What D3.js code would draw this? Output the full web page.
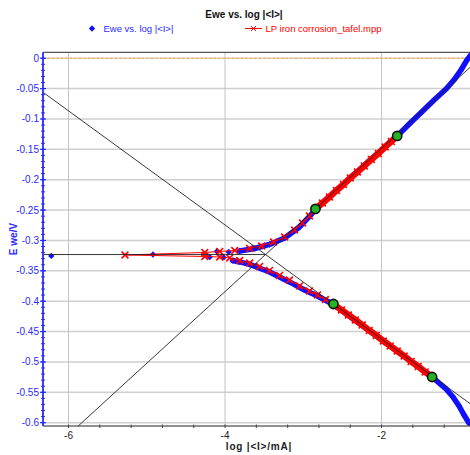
<!DOCTYPE html>
<html>
<head>
<meta charset="utf-8">
<script src="https://cdn.jsdelivr.net/npm/d3@7"></script>
<style>
  body { margin: 0; background: #fff; }
  svg { display: block; font-family: "Liberation Sans", Arial, sans-serif; }
</style>
</head>
<body>
<div id="chart"></div>
<script>
// ---- data (log|I| in log mA, E in V) ----
// measured curve, cathodic branch (from -0.6 V up to Ecorr)
const blueLowLogI = [-0.883, -0.946, -1.010, -1.087, -1.176, -1.265, -1.354, -1.775, -2.195, -2.615, -2.819, -2.985, -3.176, -3.431, -3.685, -3.813, -3.902]
const blueLowE = [-0.6005, -0.5874, -0.5725, -0.5577, -0.5445, -0.5347, -0.5248, -0.4844, -0.4449, -0.4054, -0.3914, -0.3815, -0.3683, -0.3519, -0.3395, -0.3354, -0.3330]
// measured curve, anodic branch
const blueUpLogI = [-3.813, -3.622, -3.431, -3.239, -3.048, -2.921, -2.845, -2.322, -1.800, -1.647, -1.481, -1.329, -1.176, -1.074, -0.985, -0.908, -0.858]
const blueUpE = [-0.3173, -0.3132, -0.3066, -0.2959, -0.2778, -0.2605, -0.2490, -0.1880, -0.1279, -0.1082, -0.0876, -0.0687, -0.0506, -0.0357, -0.0193, -0.0028, 0.0054]
// isolated points near Ecorr
const blueSparseLogI = [-6.220, -4.921, -4.195, -4.106, -4.017, -3.953]
const blueSparseE = [-0.3255, -0.3231, -0.3272, -0.3181, -0.3280, -0.3190]

// LP iron corrosion_tafel.mpp
const redLogI = [-1.354, -1.443, -1.532, -1.622, -1.711, -1.800, -1.889, -1.978, -2.068, -2.157, -2.246, -2.335, -2.424, -2.513, -2.615,
  -2.717, -2.819, -2.921, -3.048, -3.176, -3.303, -3.431, -3.558, -3.685, -3.813, -3.940, -4.068, -4.259, -5.278,
  -4.259, -4.068, -3.876, -3.685, -3.532, -3.380, -3.239, -3.112, -3.010, -2.921, -2.845,
  -2.755, -2.666, -2.577, -2.488, -2.399, -2.309, -2.220, -2.131, -2.042, -1.953, -1.876, -1.800]
const redE = [-0.5248, -0.5165, -0.5075, -0.4993, -0.4902, -0.4820, -0.4737, -0.4655, -0.4564, -0.4482, -0.4392, -0.4309, -0.4227, -0.4145, -0.4046,
  -0.3972, -0.3898, -0.3832, -0.3749, -0.3651, -0.3576, -0.3494, -0.3428, -0.3371, -0.3330, -0.3288, -0.3272, -0.3264, -0.3239,
  -0.3198, -0.3181, -0.3165, -0.3132, -0.3091, -0.3025, -0.2943, -0.2827, -0.2712, -0.2597, -0.2481,
  -0.2383, -0.2284, -0.2177, -0.2078, -0.1971, -0.1872, -0.1773, -0.1666, -0.1568, -0.1461, -0.1370, -0.1279]

// fit range limits (green)
const fitLogI = [-1.800, -2.845, -2.615, -1.354]
const fitE = [-0.1279, -0.2481, -0.4046, -0.5248]

// Tafel lines + Ecorr
const anodicLineLogI = [-5.88, -0.87]
const anodicLineE = [-0.606, -0.015]
const cathodicLineLogI = [-6.326, -0.87]
const cathodicLineE = [-0.056, -0.5686]
const ecorrLineLogI = [-6.326, -3.482]
const ecorrLineE = [-0.3232, -0.3232]

const xTicks = [-6, -4, -2]
const yTicks = [0, -0.05, -0.1, -0.15, -0.2, -0.25, -0.3, -0.35, -0.4, -0.45, -0.5, -0.55, -0.6]
const yTickLabels = ['0', '-0.05', '-0.1', '-0.15', '-0.2', '-0.25', '-0.3', '-0.35', '-0.4', '-0.45', '-0.5', '-0.55', '-0.6']

// ---- layout ----
const svgWidth = 470, svgHeight = 455
const plot = { left: 43, right: 470, top: 52.3, bottom: 426 }

const svg = d3.select('#chart').append('svg')
    .attr('width', svgWidth)
    .attr('height', svgHeight)

const xScale = d3.scaleLinear().domain([-6.326, -0.87]).range([plot.left, plot.right])
const yScale = d3.scaleLinear().domain([0.0098, -0.6055]).range([plot.top, plot.bottom])

const pts = (xs, ys) => xs.map((x, i) => [x, ys[i]])
const line = d3.line().x(d => xScale(d[0])).y(d => yScale(d[1]))

svg.append('clipPath').attr('id', 'clip')
    .append('rect')
    .attr('x', plot.left).attr('y', plot.top)
    .attr('width', plot.right - plot.left).attr('height', plot.bottom - plot.top)

// grid
svg.append('g').selectAll('line')
    .data(yTicks)
    .join('line')
    .attr('x1', plot.left).attr('x2', plot.right)
    .attr('y1', d => yScale(d)).attr('y2', d => yScale(d))
    .attr('stroke', '#cfcfcf').attr('stroke-width', 1.5)
svg.append('g').selectAll('line')
    .data(xTicks)
    .join('line')
    .attr('x1', d => xScale(d)).attr('x2', d => xScale(d))
    .attr('y1', plot.top).attr('y2', plot.bottom)
    .attr('stroke', '#c4c4c4').attr('stroke-width', 1)

// zero line
svg.append('line')
    .attr('x1', plot.left).attr('x2', plot.right)
    .attr('y1', yScale(0)).attr('y2', yScale(0))
    .attr('stroke', '#ffb347').attr('stroke-width', 1.4)
    .attr('stroke-dasharray', '2,2.5')

const g = svg.append('g').attr('clip-path', 'url(#clip)')

// blue measured curve
const blue = '#1010ff'
// rotated square marker
const diamond = d3.symbol().type(d3.symbolSquare).size(20)
;[pts(blueLowLogI, blueLowE), pts(blueUpLogI, blueUpE)].forEach(branch => {
    g.append('path')
        .attr('d', line(branch))
        .attr('fill', 'none')
        .attr('stroke', blue)
        .attr('stroke-width', 5.5)
        .attr('stroke-linejoin', 'round')
        .attr('stroke-linecap', 'round')
})
g.append('g').selectAll('path')
    .data(pts(blueSparseLogI, blueSparseE).concat(pts(blueLowLogI, blueLowE), pts(blueUpLogI, blueUpE)))
    .join('path')
    .attr('d', diamond)
    .attr('transform', d => `translate(${xScale(d[0])},${yScale(d[1])}) rotate(45)`)
    .attr('fill', blue)

// red series
const red = '#ff0000'
const redPts = pts(redLogI, redE)
g.append('path')
    .attr('d', line(redPts))
    .attr('fill', 'none')
    .attr('stroke', red)
    .attr('stroke-width', 1)
const cross = (x, y, s) => `M${x - s},${y - s}L${x + s},${y + s}M${x - s},${y + s}L${x + s},${y - s}`
g.append('g').selectAll('path')
    .data(redPts)
    .join('path')
    .attr('d', d => cross(xScale(d[0]), yScale(d[1]), 3.4))
    .attr('stroke', red)
    .attr('stroke-width', 1.6)
// thick band through densely sampled fit ranges
;[redPts.slice(0, 15), redPts.slice(39)].forEach(seg => {
    g.append('path')
        .attr('d', line(seg))
        .attr('fill', 'none')
        .attr('stroke', red)
        .attr('stroke-width', 6.5)
})

// Tafel lines
;[[anodicLineLogI, anodicLineE], [cathodicLineLogI, cathodicLineE], [ecorrLineLogI, ecorrLineE]].forEach(([xs, ys]) => {
    g.append('path')
        .attr('d', line(pts(xs, ys)))
        .attr('fill', 'none')
        .attr('stroke', '#222')
        .attr('stroke-width', 0.9)
})

// fit limits
g.append('g').selectAll('circle')
    .data(pts(fitLogI, fitE))
    .join('circle')
    .attr('cx', d => xScale(d[0]))
    .attr('cy', d => yScale(d[1]))
    .attr('r', 4.6)
    .attr('fill', '#22b422')
    .attr('stroke', '#111')
    .attr('stroke-width', 1.6)

// frame top
svg.append('line')
    .attr('x1', plot.left).attr('x2', plot.right)
    .attr('y1', plot.top).attr('y2', plot.top)
    .attr('stroke', '#555').attr('stroke-width', 1.2)

// x axis
svg.append('line')
    .attr('x1', plot.left).attr('x2', plot.right)
    .attr('y1', plot.bottom).attr('y2', plot.bottom)
    .attr('stroke', '#222').attr('stroke-width', 1.2)
svg.append('g').selectAll('line')
    .data(d3.range(-6, -0.87, 0.4))
    .join('line')
    .attr('x1', d => xScale(d)).attr('x2', d => xScale(d))
    .attr('y1', plot.bottom - 1.5).attr('y2', plot.bottom + 2)
    .attr('stroke', '#444')
svg.append('g').selectAll('text')
    .data(xTicks)
    .join('text')
    .attr('x', d => xScale(d))
    .attr('y', 439)
    .attr('text-anchor', 'middle')
    .attr('font-size', 10)
    .attr('fill', '#222')
    .text(d => d)
svg.append('text')
    .attr('x', 259).attr('y', 450)
    .attr('text-anchor', 'middle')
    .attr('font-size', 10)
    .attr('font-weight', 'bold')
    .attr('letter-spacing', 0.8)
    .attr('fill', '#222')
    .text('log |<I>/mA|')

// y axis (blue)
const axisBlue = '#2a2aff'
svg.append('line')
    .attr('x1', plot.left).attr('x2', plot.left)
    .attr('y1', plot.top).attr('y2', plot.bottom)
    .attr('stroke', axisBlue).attr('stroke-width', 1.8)
svg.append('g').selectAll('line')
    .data(d3.range(0, -0.605, -0.01))
    .join('line')
    .attr('x1', plot.left - 2).attr('x2', plot.left + 2)
    .attr('y1', d => yScale(d)).attr('y2', d => yScale(d))
    .attr('stroke', axisBlue).attr('stroke-width', 1)
svg.append('g').selectAll('line')
    .data(yTicks)
    .join('line')
    .attr('x1', plot.left - 3).attr('x2', plot.left + 3)
    .attr('y1', d => yScale(d)).attr('y2', d => yScale(d))
    .attr('stroke', axisBlue).attr('stroke-width', 1.2)
svg.append('g').selectAll('text')
    .data(yTicks)
    .join('text')
    .attr('x', 39)
    .attr('y', d => yScale(d) + 3.5)
    .attr('text-anchor', 'end')
    .attr('font-size', 10)
    .attr('fill', axisBlue)
    .text((d, i) => yTickLabels[i])
svg.append('text')
    .attr('transform', 'translate(17,239) rotate(-90)')
    .attr('text-anchor', 'middle')
    .attr('font-size', 10)
    .attr('font-weight', 'bold')
    .attr('fill', axisBlue)
    .text('E we/V')

// title + legend
svg.append('text')
    .attr('x', 244).attr('y', 18)
    .attr('text-anchor', 'middle')
    .attr('font-size', 10)
    .attr('font-weight', 'bold')
    .attr('fill', '#111')
    .text('Ewe vs. log |<I>|')
svg.append('path')
    .attr('d', d3.symbol().type(d3.symbolSquare).size(20))
    .attr('transform', 'translate(92,28.5) rotate(45)')
    .attr('fill', blue)
svg.append('text')
    .attr('x', 103.5).attr('y', 32)
    .attr('font-size', 9.5)
    .attr('fill', axisBlue)
    .text('Ewe vs. log |<I>|')
svg.append('line')
    .attr('x1', 245).attr('x2', 262)
    .attr('y1', 28.5).attr('y2', 28.5)
    .attr('stroke', red)
svg.append('path')
    .attr('d', cross(253.5, 28.5, 2.5))
    .attr('stroke', red)
svg.append('text')
    .attr('x', 265.5).attr('y', 32)
    .attr('font-size', 9.5)
    .attr('fill', red)
    .text('LP iron corrosion_tafel.mpp')
</script>
</body>
</html>
